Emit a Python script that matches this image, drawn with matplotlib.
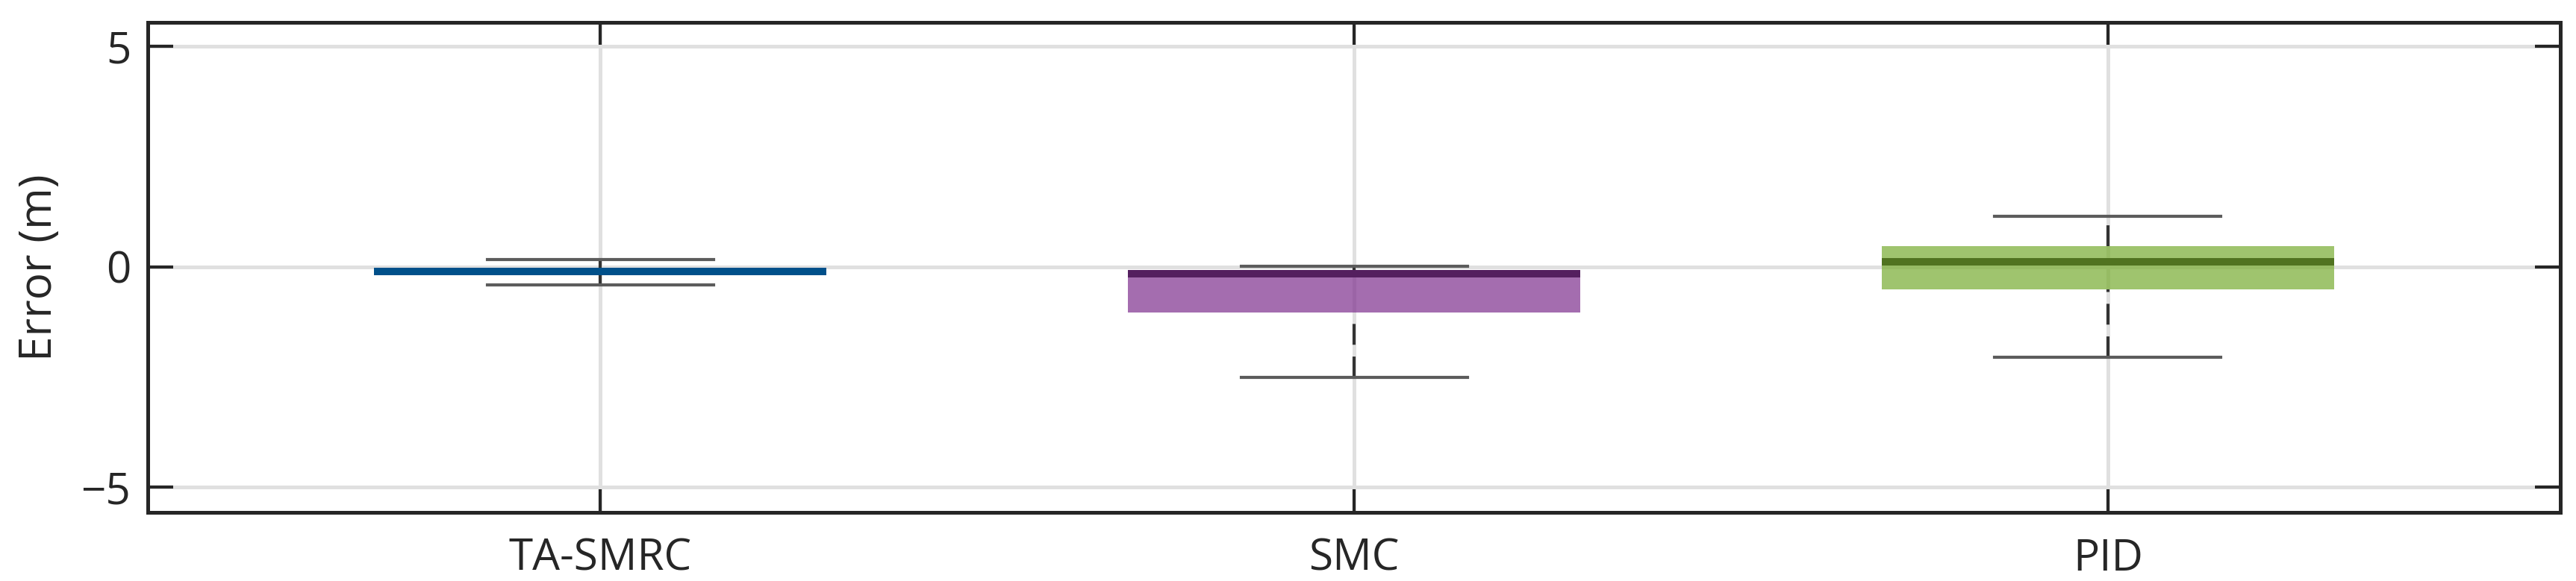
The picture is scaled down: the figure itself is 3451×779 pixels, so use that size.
import matplotlib
matplotlib.use("Agg")
import matplotlib.pyplot as plt

# Box statistics (metres)
categories = ["TA-SMRC", "SMC", "PID"]
whislo = [-0.41, -2.51, -2.06]
q1 = [-0.13, -1.04, -0.51]
med = [-0.10, -0.16, 0.12]
q3 = [-0.07, -0.08, 0.46]
whishi = [0.17, 0.01, 1.15]

box_colors = ["#0072bd", "#7e2f8e", "#77ac30"]
median_colors = ["#00508a", "#541f5f", "#507320"]

plt.rcParams["font.family"] = ["Open Sans", "DejaVu Sans"]

fig = plt.figure(figsize=(3451 / 300, 779 / 300), dpi=300)
ax = fig.add_axes([0.0574, 0.1181, 0.9365, 0.8434])

stats = [
    {"label": c, "whislo": lo, "q1": a, "med": m, "q3": b, "whishi": hi}
    for c, lo, a, m, b, hi in zip(categories, whislo, q1, med, q3, whishi)
]
pos = list(range(1, len(categories) + 1))
bp = ax.bxp(stats, positions=pos, widths=0.6, capwidths=0.3,
            patch_artist=True, showfliers=False, zorder=3,
            whiskerprops={"color": "#333333", "linewidth": 1.0,
                          "linestyle": (0, (6.7, 3.8))},
            capprops={"color": "#5c5c5c", "linewidth": 1.0},
            medianprops={"linewidth": 2.4, "solid_capstyle": "butt"})

for patch, col in zip(bp["boxes"], box_colors):
    patch.set_facecolor(col)
    patch.set_alpha(0.7)
    patch.set_edgecolor("none")
for line, col in zip(bp["medians"], median_colors):
    line.set_color(col)
# whiskers drawn from low to high values, so dash phase starts at lower cap
for i, line in enumerate(bp["whiskers"]):
    if i % 2 == 0:
        x, y = line.get_data()
        line.set_data(x[::-1], y[::-1])

ax.set_xlim(0.4, 3.6)
ax.set_ylim(-5.58, 5.55)
ax.set_yticks([-5, 0, 5])
ax.set_yticklabels(["\u22125", "0", "5"])
ax.set_xticks(pos)
ax.set_xticklabels(categories)

ax.grid(True, color="#e0e0e0", linewidth=1.2, zorder=0)
ax.set_axisbelow(True)
ax.tick_params(direction="in", length=8.2, width=1.0, color="#262626",
               labelsize=14, top=True, right=True, labelcolor="#262626")
ax.tick_params(axis="y", pad=5.5)
ax.tick_params(axis="x", pad=8)
for s in ax.spines.values():
    s.set_linewidth(1.2)
    s.set_color("#262626")

ax.set_ylabel("Error (m)", fontsize=14.5, color="#262626", labelpad=6)

fig.savefig("out.png", dpi=300)
